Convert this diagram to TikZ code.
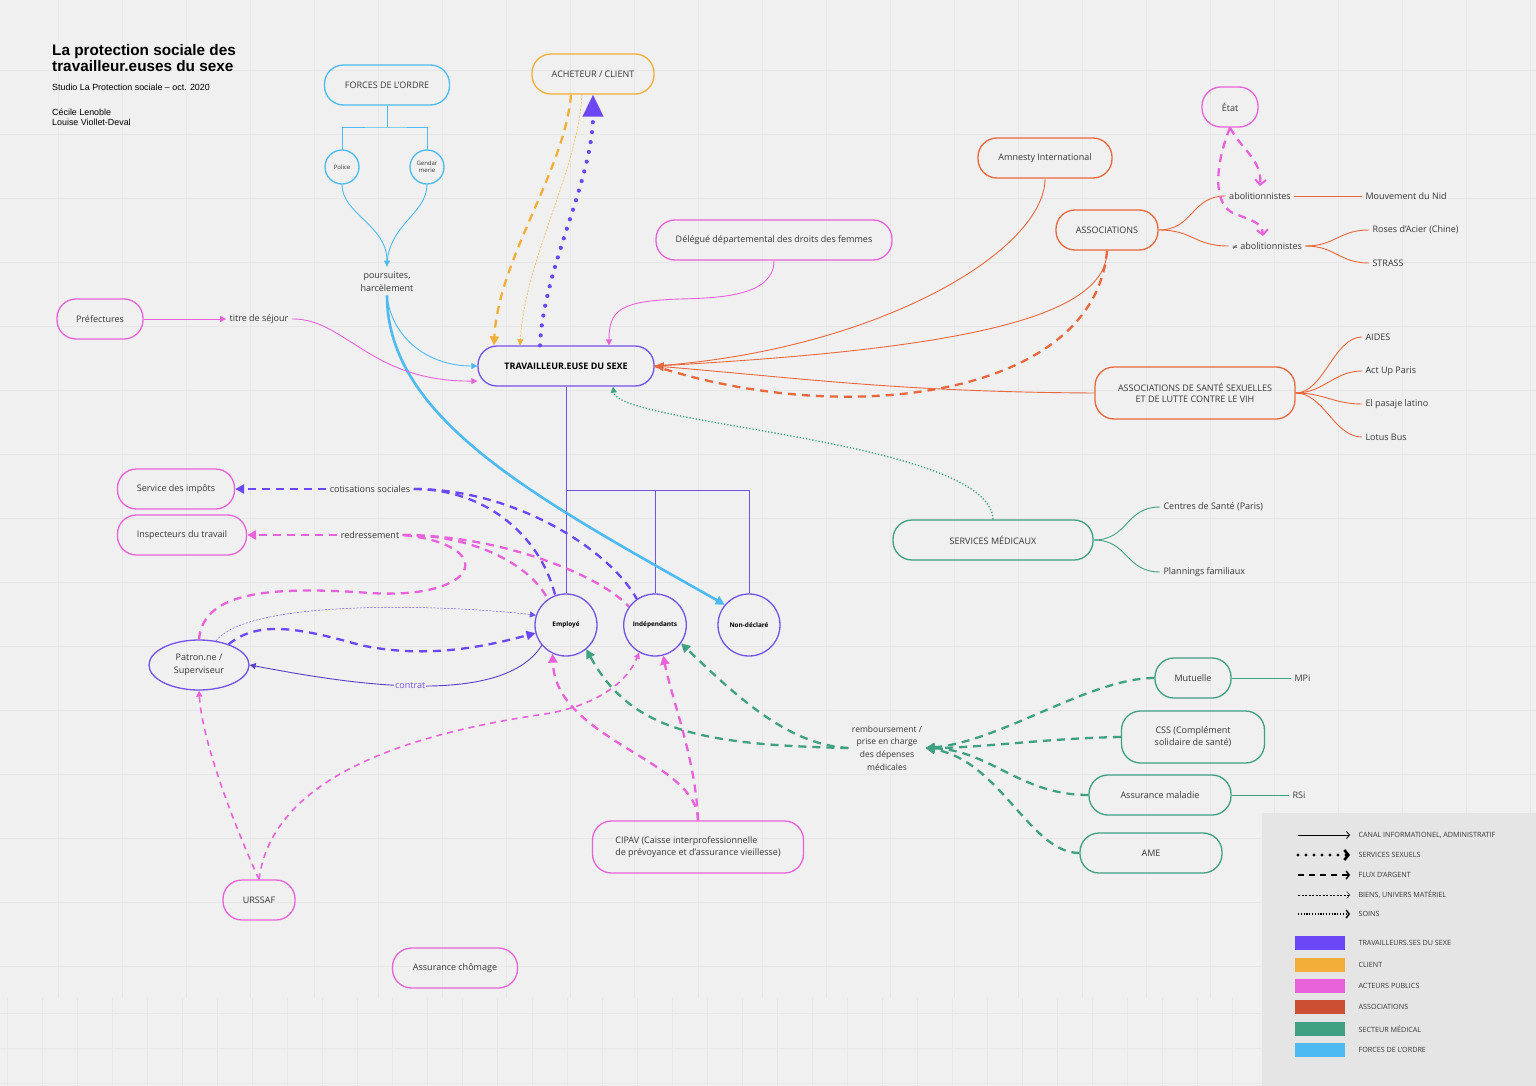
\documentclass[tikz,border=0pt]{standalone}
\usepackage{fontspec}
\setmainfont{Open Sans}
\newfontfamily\titre{Liberation Sans}
\newfontfamily\symb{DejaVu Sans}
\usetikzlibrary{arrows.meta,shapes.geometric,positioning}

\definecolor{fond}{HTML}{F0F0F0}
\definecolor{grille}{HTML}{E7E7E7}
\definecolor{txt}{HTML}{363636}
\definecolor{tds}{HTML}{7352E6}
\definecolor{tdsfill}{HTML}{6C47F5}
\definecolor{contratc}{HTML}{5B3FC2}
\definecolor{client}{HTML}{F3AE3A}
\definecolor{public}{HTML}{E862DA}
\definecolor{assoc}{HTML}{E8683D}
\definecolor{assocfill}{HTML}{CD4F33}
\definecolor{medic}{HTML}{40A082}
\definecolor{ordre}{HTML}{4DBAF2}

\tikzset{
  boite/.style={draw=#1, line width=1.3pt, rounded corners=19pt, minimum height=40pt,
    inner sep=0pt, align=center, text=txt, font=\fontsize{9}{11.5}\selectfont},
  rond/.style={draw=#1, ellipse, line width=1.3pt, minimum width=62pt, minimum height=62pt,
    inner sep=0pt, align=center, text=black, font=\fontsize{6.4}{8}\bfseries\selectfont},
  etiq/.style={text=txt, align=center, font=\fontsize{9}{12.5}\selectfont},
  lien/.style={line width=0.9pt},
  fl/.style={-{Triangle[length=6pt,width=6pt]}},
  flg/.style={-{Triangle[length=9pt,width=9pt]}},
  argent/.style={line width=2.3pt, dash pattern=on 8pt off 6pt},
  biens/.style={line width=0.5pt, dash pattern=on 2pt off 1.5pt},
  soins/.style={line width=1.4pt, dash pattern=on 1.2pt off 2pt},
  sexe/.style={line width=4.2pt, line cap=round, dash pattern=on 0pt off 10pt},
  legende/.style={anchor=west, text=txt, font=\fontsize{7.2}{8}\selectfont}
}

\begin{document}
\begin{tikzpicture}[x=1pt,y=-1pt]
  \useasboundingbox (0,0) rectangle (1536,1086);
  \fill[fond] (0,0) rectangle (1536,1086);
  \foreach \gx in {58,122,...,1536} \draw[grille,line width=0.6pt] (\gx,0) -- (\gx,998);
  \foreach \gy in {70,134,...,998} \draw[grille,line width=0.6pt] (0,\gy) -- (1536,\gy);
  \foreach \gx in {7,42,...,1536} \draw[grille,line width=0.4pt] (\gx,998) -- (\gx,1086);
  \foreach \gy in {1013,1048,1083} \draw[grille,line width=0.4pt] (0,\gy) -- (1536,\gy);

  % titre
  \node[anchor=north west, align=left, inner sep=0pt, font=\titre\fontsize{15.3}{16.5}\bfseries\selectfont] (titre)
    at (52,44) {La protection sociale des\\travailleur.euses du sexe};
  \node[anchor=north west, inner sep=0pt, font=\titre\fontsize{8.9}{9.5}\selectfont] (studio)
    at (52,84) {Studio La Protection sociale – oct. 2020};
  \node[anchor=north west, align=left, inner sep=0pt, font=\titre\fontsize{8.9}{9.5}\selectfont] (auteurs)
    at (52,109) {Cécile Lenoble\\Louise Viollet-Deval};

  % forces de l'ordre
  \node[boite=ordre, minimum width=125pt] (forces) at (387,85) {FORCES DE L'ORDRE};
  \node[rond=ordre, minimum width=34pt, minimum height=34pt, font=\fontsize{6}{7.5}\selectfont, text=txt] (police) at (342,167) {Police};
  \node[rond=ordre, minimum width=34pt, minimum height=34pt, font=\fontsize{6}{7.5}\selectfont, text=txt] (gend) at (427,167) {Gendar\\merie};
  \node[etiq, font=\fontsize{9}{13}\selectfont] (pours) at (387,282) {poursuites,\\harcèlement};
  \coordinate (fourche) at (387,127);
  \draw[ordre, lien] (forces.south) -- (fourche);
  \draw[ordre, lien] (police.north) |- (fourche) -| (gend.north);
  \draw[ordre, lien, fl] (police.south) .. controls (342,214) and (387,225) .. ([yshift=2pt]pours.north);
  \draw[ordre, lien] (gend.south) .. controls (427,214) and (387,225) .. ([yshift=2pt]pours.north);

  % travailleur.euse
  \node[boite=tds, minimum width=176pt, font=\fontsize{9}{11}\bfseries\selectfont, text=black] (tds) at (566,366) {TRAVAILLEUR.EUSE DU SEXE};
  \node[rond=tds] (employe) at (566,625) {Employé};
  \node[rond=tds] (indep) at (655,625) {Indépendants};
  \node[rond=tds] (nondecl) at (749,625) {Non-déclaré};
  \node[rond=tds, minimum width=100pt, minimum height=50pt, font=\fontsize{9}{13}\selectfont, text=txt] (patron) at (199,665) {Patron.ne /\\Superviseur};
  \coordinate (branche) at (566,490);
  \draw[tds, lien] (tds.south) -- (employe.north);
  \draw[tds, lien] (branche) -| (indep.north);
  \draw[tds, lien] (branche) -| (nondecl.north);

  \draw[ordre, lien, fl] (pours.south) .. controls (392,340) and (430,366) .. (tds.west);
  \draw[ordre, line width=2.6pt, -{Triangle[length=9pt,width=9pt]}] (pours.south) .. controls (387,420) and (540,500) .. (nondecl.140);

  % prefectures
  \node[boite=public, minimum width=86pt] (pref) at (100,319) {Préfectures};
  \node[etiq] (titresejour) at (259,319) {titre de séjour};
  \draw[public, lien, fl] (pref) -- (titresejour);
  \draw[public, lien, fl] (titresejour.east) .. controls (345,318) and (370,382) .. ([yshift=-15pt]tds.west);

  % client
  \node[boite=client, minimum width=122pt] (client) at (593,74) {ACHETEUR / CLIENT};
  \draw[client, argent, flg] ([xshift=-22pt]client.south) .. controls (565,170) and (498,260) .. ([xshift=-72pt]tds.north);
  \draw[client, biens, fl] ([xshift=-11pt]client.south) .. controls (578,170) and (525,260) .. ([xshift=-46pt]tds.north);
  \draw[tdsfill, sexe, -{Triangle[length=22pt,width=20pt]}] ([xshift=-26pt]tds.north) .. controls (543,270) and (593,180) .. (client.south);

  % delegue
  \node[boite=public, minimum width=236pt] (delegue) at (774,240) {Délégué départemental des droits des femmes};
  \draw[public, lien, fl] (delegue.south) .. controls (774,296) and (720,298) .. (680,299)
    .. controls (620,301) and (609,310) .. ([xshift=43pt]tds.north);

  % associations
  \node[boite=assoc, minimum width=134pt] (amnesty) at (1045,158) {Amnesty International};
  \node[boite=assoc, minimum width=102pt] (assocs) at (1107,230) {ASSOCIATIONS};
  \node[boite=assoc, minimum width=200pt, minimum height=52pt] (santeassoc) at (1195,393) {ASSOCIATIONS DE SANTÉ SEXUELLES\\ET DE LUTTE CONTRE LE VIH};
  \draw[assoc, lien] (amnesty.south) .. controls (1045,250) and (880,350) .. (tds.east);
  \draw[assoc, lien] (assocs.south) .. controls (1107,320) and (950,350) .. (tds.east);
  \draw[assoc, argent] (assocs.south) .. controls (1095,395) and (850,430) .. (tds.east);
  \draw[assoc, lien, flg] (santeassoc.west) .. controls (900,392) and (800,378) .. (tds.east);

  \node[etiq] (abol) at (1260,196) {abolitionnistes};
  \node[etiq] (nonabol) at (1267,246) {{\symb\fontsize{7}{9}\selectfont ≠} abolitionnistes};
  \node[etiq, anchor=west] (nid) at (1362,196) {Mouvement du Nid};
  \node[etiq, anchor=west] (roses) at (1369,230) {Roses d'Acier (Chine)};
  \node[etiq, anchor=west] (strass) at (1369,263) {STRASS};
  \draw[assoc, lien] (assocs.east) .. controls +(35,0) and +(-35,0) .. (abol.west);
  \draw[assoc, lien] (assocs.east) .. controls +(35,0) and +(-35,0) .. (nonabol.west);
  \draw[assoc, lien] (abol) -- (nid);
  \draw[assoc, lien] (nonabol.east) .. controls +(30,0) and +(-30,0) .. (roses.west);
  \draw[assoc, lien] (nonabol.east) .. controls +(30,0) and +(-30,0) .. (strass.west);

  \foreach \nom/\texte/\y in {aides/AIDES/337, actup/Act Up Paris/371, pasaje/El pasaje latino/404, lotus/Lotus Bus/437}{
    \node[etiq, anchor=west] (\nom) at (1362,\y) {\texte};
    \draw[assoc, lien] (santeassoc.east) .. controls +(28,0) and +(-28,0) .. (\nom.west);
  }

  % etat
  \node[boite=public, minimum width=56pt] (etat) at (1230,107) {État};
  \draw[public, argent, -{Straight Barb[length=5pt,width=11pt,line width=2pt]}] (etat.south) .. controls (1242,150) and (1262,160) .. ([yshift=3pt]abol.north);
  \draw[public, argent, -{Straight Barb[length=5pt,width=11pt,line width=2pt]}] (etat.south) .. controls (1215,165) and (1212,205) .. (1235,214)
    .. controls (1258,222) and (1262,225) .. ([xshift=-4pt,yshift=3pt]nonabol.north);

  % services medicaux
  \node[boite=medic, minimum width=200pt] (services) at (993,540) {SERVICES MÉDICAUX};
  \node[etiq, anchor=west] (centres) at (1160,507) {Centres de Santé (Paris)};
  \node[etiq, anchor=west] (plannings) at (1160,572) {Plannings familiaux};
  \draw[medic, lien] (services.east) .. controls +(35,0) and +(-35,0) .. (centres.west);
  \draw[medic, lien] (services.east) .. controls +(35,0) and +(-35,0) .. (plannings.west);
  \draw[medic, soins, fl] (services.north) .. controls (990,440) and (618,425) .. ([xshift=47pt]tds.south);

  % impots, inspection
  \node[boite=public, minimum width=117pt] (impots) at (176,489) {Service des impôts};
  \node[boite=public, minimum width=129pt] (inspect) at (182,535) {Inspecteurs du travail};
  \node[etiq] (cotis) at (370,489) {cotisations sociales};
  \node[etiq] (redress) at (370,535) {redressement};
  \draw[tdsfill, argent, flg] (cotis) -- (impots.east);
  \draw[tdsfill, argent] (cotis.east) .. controls (485,489) and (540,535) .. (employe.110);
  \draw[tdsfill, argent] (cotis.east) .. controls (515,489) and (610,550) .. (indep.125);
  \draw[public, argent, flg] (redress) -- (inspect.east);
  \draw[public, argent] (redress.east) .. controls (475,535) and (530,565) .. (employe.125);
  \draw[public, argent] (redress.east) .. controls (500,535) and (600,575) .. (indep.145);
  \draw[public, argent] (patron.north) .. controls (203,595) and (260,585) .. (370,593)
    .. controls (480,600) and (500,545) .. (redress.east);

  % patron
  \draw[tds, biens, fl] (patron.55) .. controls (250,598) and (450,605) .. (employe.162);
  \draw[tdsfill, argent, flg] (patron.35) .. controls (258,620) and (300,628) .. (360,645)
    .. controls (430,660) and (490,645) .. (employe.195);
  \draw[contratc, lien, fl] (employe.220) .. controls (500,712) and (330,680) ..
    node[pos=0.5, fill=fond, inner sep=1pt, text=tds, font=\fontsize{9}{10}\selectfont] (contrat) {contrat} (patron.east);

  % urssaf, cipav, chomage
  \node[boite=public, minimum width=72pt] (urssaf) at (259,900) {URSSAF};
  \node[boite=public, minimum width=125pt] (chomage) at (455,968) {Assurance chômage};
  \node[boite=public, minimum width=211pt, minimum height=52pt, align=left] (cipav) at (698,847) {CIPAV (Caisse interprofessionnelle\\de prévoyance et d'assurance vieillesse)};
  \draw[public, argent, lien, dash pattern=on 6pt off 5pt, line width=1.6pt, fl] (urssaf.north) .. controls (232,820) and (202,740) .. (patron.south);
  \draw[public, argent, lien, dash pattern=on 6pt off 5pt, line width=1.6pt, fl] (urssaf.north) .. controls (272,780) and (400,735) .. (545,714)
    .. controls (600,705) and (628,680) .. (indep.-120);
  \draw[public, argent, flg] (cipav.north) .. controls (698,760) and (555,740) .. (employe.-115);
  \draw[public, argent, flg] (cipav.north) .. controls (696,760) and (672,700) .. (indep.-75);

  % remboursement
  \node[etiq, font=\fontsize{8.5}{12.7}\selectfont] (remb) at (887,748) {remboursement /\\prise en charge\\des dépenses\\médicales};
  \node[boite=medic, minimum width=76pt] (mutuelle) at (1193,678) {Mutuelle};
  \node[boite=medic, minimum width=143pt, minimum height=52pt] (css) at (1193,737) {CSS (Complément\\solidaire de santé)};
  \node[boite=medic, minimum width=142pt] (maladie) at (1160,795) {Assurance maladie};
  \node[boite=medic, minimum width=142pt] (ame) at (1151,853) {AME};
  \node[etiq, anchor=west] (mpi) at (1291,678) {MPi};
  \node[etiq, anchor=west] (rsi) at (1289,795) {RSi};
  \draw[medic, lien] (mutuelle) -- (mpi);
  \draw[medic, lien] (maladie) -- (rsi);
  \draw[medic, argent, flg] (mutuelle.west) .. controls (1090,678) and (1000,742) .. (remb.east);
  \draw[medic, argent, flg] (css.west) .. controls (1050,738) and (980,748) .. (remb.east);
  \draw[medic, argent, flg] (maladie.west) .. controls (1020,795) and (990,750) .. (remb.east);
  \draw[medic, argent, flg] (ame.west) .. controls (1030,853) and (1000,760) .. (remb.east);
  \draw[medic, argent, flg] (remb.west) .. controls (700,745) and (630,730) .. (employe.-50);
  \draw[medic, argent, flg] (remb.west) .. controls (790,745) and (740,700) .. (indep.-35);

  % legende
  \fill[black!10] (1262,813) rectangle (1536,1086);
  \node[legende] (l1) at (1355,835) {CANAL INFORMATIONEL, ADMINISTRATIF};
  \node[legende] (l2) at (1355,855) {SERVICES SEXUELS};
  \node[legende] (l3) at (1355,875) {FLUX D'ARGENT};
  \node[legende] (l4) at (1355,895) {BIENS, UNIVERS MATÉRIEL};
  \node[legende] (l5) at (1355,914) {SOINS};
  \draw[line width=0.8pt, -{Straight Barb[length=3pt,width=7pt]}] ([xshift=-57pt]l1.west) -- ([xshift=-5pt]l1.west);
  \draw[line width=3.2pt, line cap=round, dash pattern=on 0pt off 8pt, -{Straight Barb[length=4pt,width=10pt,line width=2.6pt]}] ([xshift=-57pt]l2.west) -- ([xshift=-5pt]l2.west);
  \draw[line width=1.6pt, dash pattern=on 6pt off 5pt, -{Straight Barb[length=3pt,width=8pt,line width=1.4pt]}] ([xshift=-57pt]l3.west) -- ([xshift=-5pt]l3.west);
  \draw[line width=0.4pt, dash pattern=on 2pt off 1.5pt, -{Straight Barb[length=3pt,width=7pt]}] ([xshift=-57pt]l4.west) -- ([xshift=-5pt]l4.west);
  \draw[line width=1.5pt, dash pattern=on 1.2pt off 1.6pt, -{Straight Barb[length=3pt,width=8pt,line width=1.4pt]}] ([xshift=-57pt]l5.west) -- ([xshift=-5pt]l5.west);
  \foreach \nom/\coul/\texte/\y in {c1/tdsfill/TRAVAILLEURS.SES DU SEXE/943, c2/client/CLIENT/965,
      c3/public/ACTEURS PUBLICS/986, c4/assocfill/ASSOCIATIONS/1007, c5/medic/SECTEUR MÉDICAL/1029, c6/ordre/FORCES DE L'ORDRE/1050}{
    \node[legende] (\nom) at (1355,\y) {\texte};
    \fill[\coul] ([xshift=-60pt,yshift=7pt]\nom.west) rectangle ([xshift=-10pt,yshift=-7pt]\nom.west);
  }
\end{tikzpicture}
\end{document}
